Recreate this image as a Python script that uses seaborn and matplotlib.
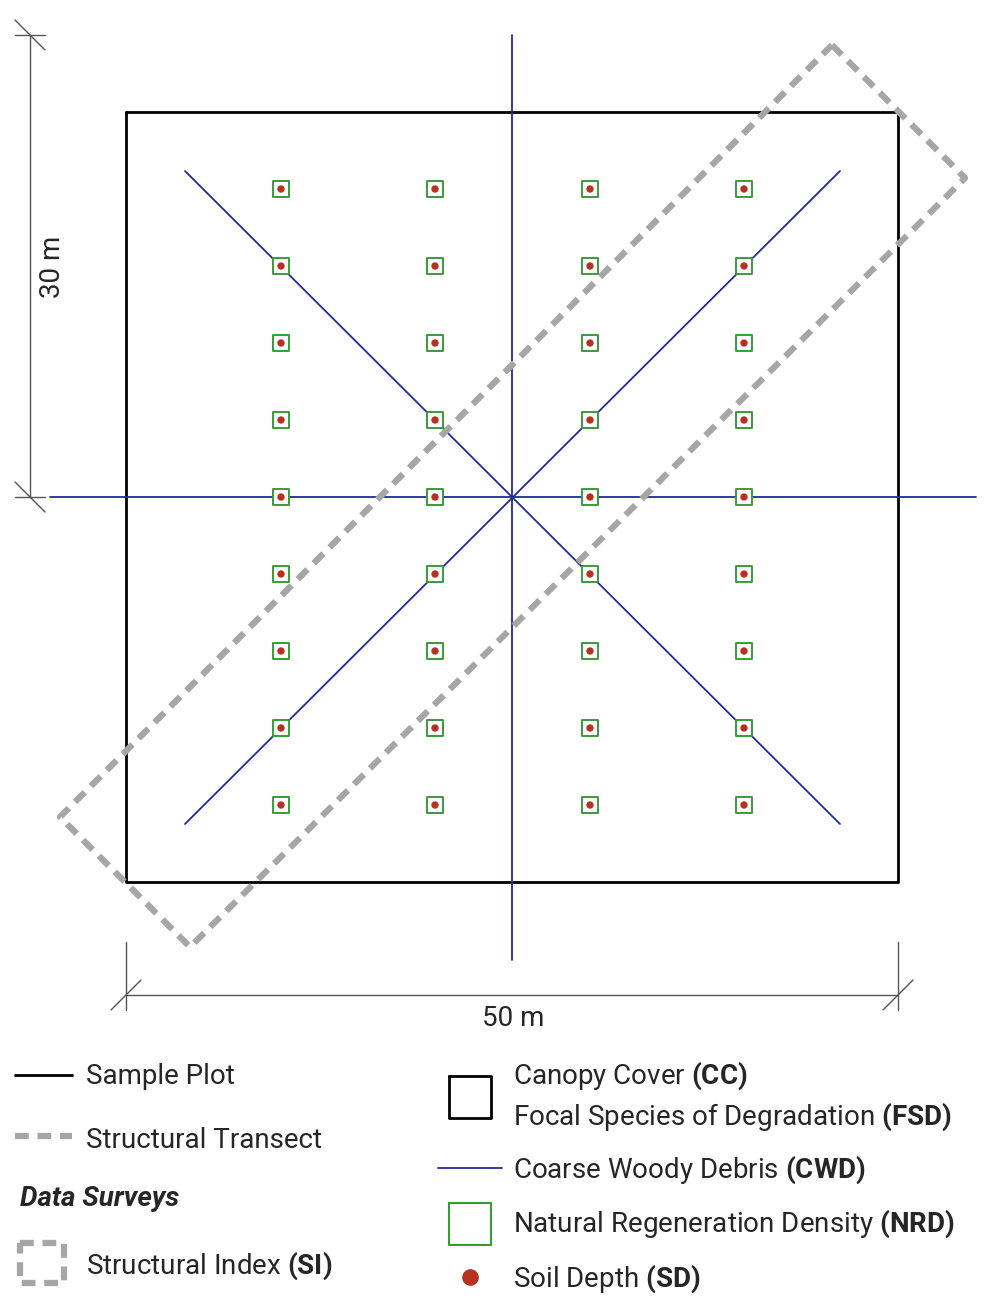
import numpy as np
import pandas as pd
import seaborn as sns
import matplotlib.pyplot as plt

sns.set_style("white")
plt.rcParams["font.family"] = ["Roboto", "DejaVu Sans"]
plt.rcParams["mathtext.fontset"] = "custom"
plt.rcParams["mathtext.bf"] = "Roboto:bold"
plt.rcParams["mathtext.rm"] = "Roboto"

# survey point grid (pixel-like layout units)
grid_x = [281, 435, 590, 744]
grid_y = [189, 266, 343, 420, 497, 574, 651, 728, 805]
plot_box = [126, 898, 112, 882]  # left, right, top, bottom
cwd_lines = [((512, 35), (512, 960)), ((50, 497), (976, 497)),
             ((185, 171), (840, 824)), ((185, 824), (840, 171))]
transect = [(832, 45), (965, 178), (190, 947), (60, 817)]
blue = "#1f2a9c"
green = "#3a9a3a"
red = "#b8301f"
grey = "#a6a6a6"

pts = pd.DataFrame([(x, y) for x in grid_x for y in grid_y], columns=["x", "y"])

fig = plt.figure(figsize=(9.9, 13.06), dpi=100)
ax = fig.add_axes([0, 0, 1, 1])
ax.set_xlim(0, 990)
ax.set_ylim(1306, 0)
ax.axis("off")

l, r, t, b = plot_box
ax.plot([l, r, r, l, l], [t, t, b, b, t], color="black", lw=2)
for (x0, y0), (x1, y1) in cwd_lines:
    ax.plot([x0, x1], [y0, y1], color=blue, lw=1.3)
tx = [p[0] for p in transect] + [transect[0][0]]
ty = [p[1] for p in transect] + [transect[0][1]]
ax.plot(tx, ty, color=grey, lw=4.5, ls=(0, (2.2, 1.4)))

sns.scatterplot(data=pts, x="x", y="y", ax=ax, marker="s", s=140,
                facecolor="white", edgecolor=green, linewidth=1.4, legend=False, zorder=3)
sns.scatterplot(data=pts, x="x", y="y", ax=ax, marker="o", s=28,
                color=red, edgecolor="none", legend=False, zorder=4)

# dimension lines
dim = dict(color="#555555", lw=1)
ax.plot([30, 30], [35, 497], **dim)
for yy in (35, 497):
    ax.plot([15, 45], [yy - 15, yy + 15], **dim)
    ax.plot([15, 45], [yy, yy], **dim)
ax.plot([126, 898], [995, 995], **dim)
for xx in (126, 898):
    ax.plot([xx, xx], [942, 1010], **dim)
    ax.plot([xx - 15, xx + 15], [1010, 980], **dim)
ax.text(52, 267, "30 m", rotation=90, ha="center", va="center", fontsize=20)
ax.text(513, 1018, "50 m", ha="center", va="center", fontsize=20)

# legend
fs = 20
ax.plot([15, 72], [1075, 1075], color="black", lw=2)
ax.text(86, 1076, "Sample Plot", va="center", fontsize=fs)
ax.plot([15, 72], [1136, 1136], color=grey, lw=4.5, ls=(0, (2.2, 1.4)))
ax.text(86, 1141, "Structural Transect", va="center", fontsize=fs)
ax.text(20, 1198, "Data Surveys", va="center", fontsize=fs, style="italic", weight="bold")
ax.plot([20, 64, 64, 20, 20], [1243, 1243, 1283, 1283, 1243], color=grey, lw=4.5,
        ls=(0, (2.2, 1.4)))
ax.text(86, 1266, "Structural Index $\\bf{(SI)}$", va="center", fontsize=fs)

ax.plot([449, 491, 491, 449, 449], [1076, 1076, 1118, 1118, 1076], color="black", lw=2)
ax.text(513, 1076, "Canopy Cover $\\bf{(CC)}$", va="center", fontsize=fs)
ax.text(513, 1117, "Focal Species of Degradation $\\bf{(FSD)}$", va="center", fontsize=fs)
ax.plot([438, 502], [1168, 1168], color=blue, lw=1.3)
ax.text(513, 1170, "Coarse Woody Debris $\\bf{(CWD)}$", va="center", fontsize=fs)
ax.plot([449, 491, 491, 449, 449], [1203, 1203, 1245, 1245, 1203], color=green, lw=1.5)
ax.text(513, 1224, "Natural Regeneration Density $\\bf{(NRD)}$", va="center", fontsize=fs)
ax.scatter([470], [1277], s=120, color=red, zorder=4)
ax.text(513, 1279, "Soil Depth $\\bf{(SD)}$", va="center", fontsize=fs)

fig.savefig("out.png", dpi=100)
